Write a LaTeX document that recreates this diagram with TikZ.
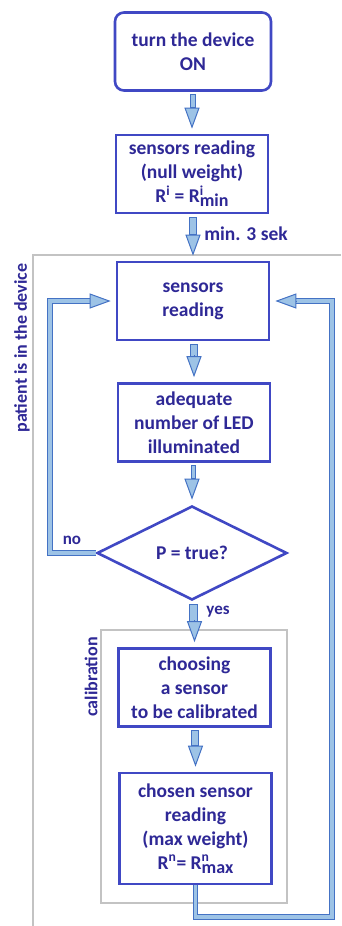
\documentclass[tikz,border=0pt]{standalone}
\usepackage{fontspec}
\setmainfont{Carlito}
\usetikzlibrary{arrows.meta,shapes.geometric,calc}
\definecolor{boxblue}{RGB}{64,72,196}
\definecolor{textblue}{RGB}{46,40,150}
\definecolor{pipeblue}{RGB}{68,114,196}
\definecolor{pipefill}{RGB}{157,195,230}
\definecolor{framegray}{RGB}{195,195,195}
\newcommand{\Rsupsub}[2]{R\rlap{\textsuperscript{#1}}\raisebox{-0.45ex}{\fontsize{18}{18}\selectfont #2}}

\begin{document}
\begin{tikzpicture}[x=1pt,y=1pt,
	box/.style={draw=boxblue, line width=2.6pt, fill=white, text=textblue,
		font={\fontsize{19.5}{24}\selectfont\bfseries}, align=center,
		minimum width=152pt, minimum height=78pt, inner sep=2pt},
	test/.style={box, diamond, minimum width=190pt, minimum height=94pt},
	lbl/.style={text=textblue, font={\fontsize{18}{22}\selectfont\bfseries}, inner sep=0pt},
	frame/.style={draw=framegray, line width=1.8pt},
	pipe/.style={draw=pipeblue, fill=pipefill, line width=1pt},
	head/.style={draw=pipeblue, line width=1pt, -{Triangle[length=21pt,width=15pt,fill=pipefill]}},
	loopline/.style={draw=pipeblue, double=pipefill, double distance=3.5pt, line width=1pt}]
	\useasboundingbox (0,0) rectangle (341,-926);
	% grey frames
	\draw[frame] (33,-926) -- (33,-255) -- (341,-255);
	\draw[frame] (101,-630) rectangle (287,-903);
	% steps
	\node[box, rounded corners=9pt, minimum width=156pt] (on) at (193,-51.5) {turn the device\\ON};
	\node[box] (nul) at (192,-174) {sensors reading\\(null weight)\\R\textsuperscript{i} = \Rsupsub{i}{min}};
	\node[box] (sense) at (193,-301) {sensors\\reading};
	\node[box] (led) at (194,-422.5) {adequate\\number of LED\\illuminated};
	\node[test] (test) at (192,-553) {P = true?};
	\node[box] (choose) at (194.5,-687.5) {choosing\\a sensor\\to be calibrated};
	\node[box, minimum height=111pt] (chosen) at (195.5,-828.5) {chosen sensor\\reading\\(max weight)\\R\textsuperscript{n}= \Rsupsub{n}{max}};
	% labels
	\node[lbl, rotate=90] (patient) at (22,-348) {patient is in the device};
	\node[lbl, rotate=90] (calib) at (91,-677) {calibration};
	\node[lbl, font={\fontsize{19.5}{22}\selectfont\bfseries}] (wait) at (246,-234) {min. 3 sek};
	\node[lbl, font={\fontsize{17}{20}\selectfont\bfseries}] (no) at (72,-540) {no};
	\node[lbl, font={\fontsize{17}{20}\selectfont\bfseries}] (yes) at (218,-612) {yes};
	% block arrows
	\foreach \a/\b in {on/nul, nul/sense, sense/led, led/test, test/choose, choose/chosen}{
		\draw[pipe] ($(\a.south)+(-3,-3)$) rectangle ($(\b.north)+(3,26)$);
		\draw[head] ($(\b.north)+(0,27)$) -- ($(\b.north)+(0,5)$);
	}
	% loops back to reading
	\coordinate (lt) at (50,-301);
	\coordinate (rb) at (332,-917);
	\draw[loopline] (test.west) -| (lt) -- ($(sense.west)+(-25,0)$);
	\draw[head] ($(sense.west)+(-26,0)$) -- ($(sense.west)+(-5,0)$);
	\draw[loopline] (chosen.south) |- (rb) |- ($(sense.east)+(25,0)$);
	\draw[head] ($(sense.east)+(26,0)$) -- ($(sense.east)+(5,0)$);
\end{tikzpicture}
\end{document}
